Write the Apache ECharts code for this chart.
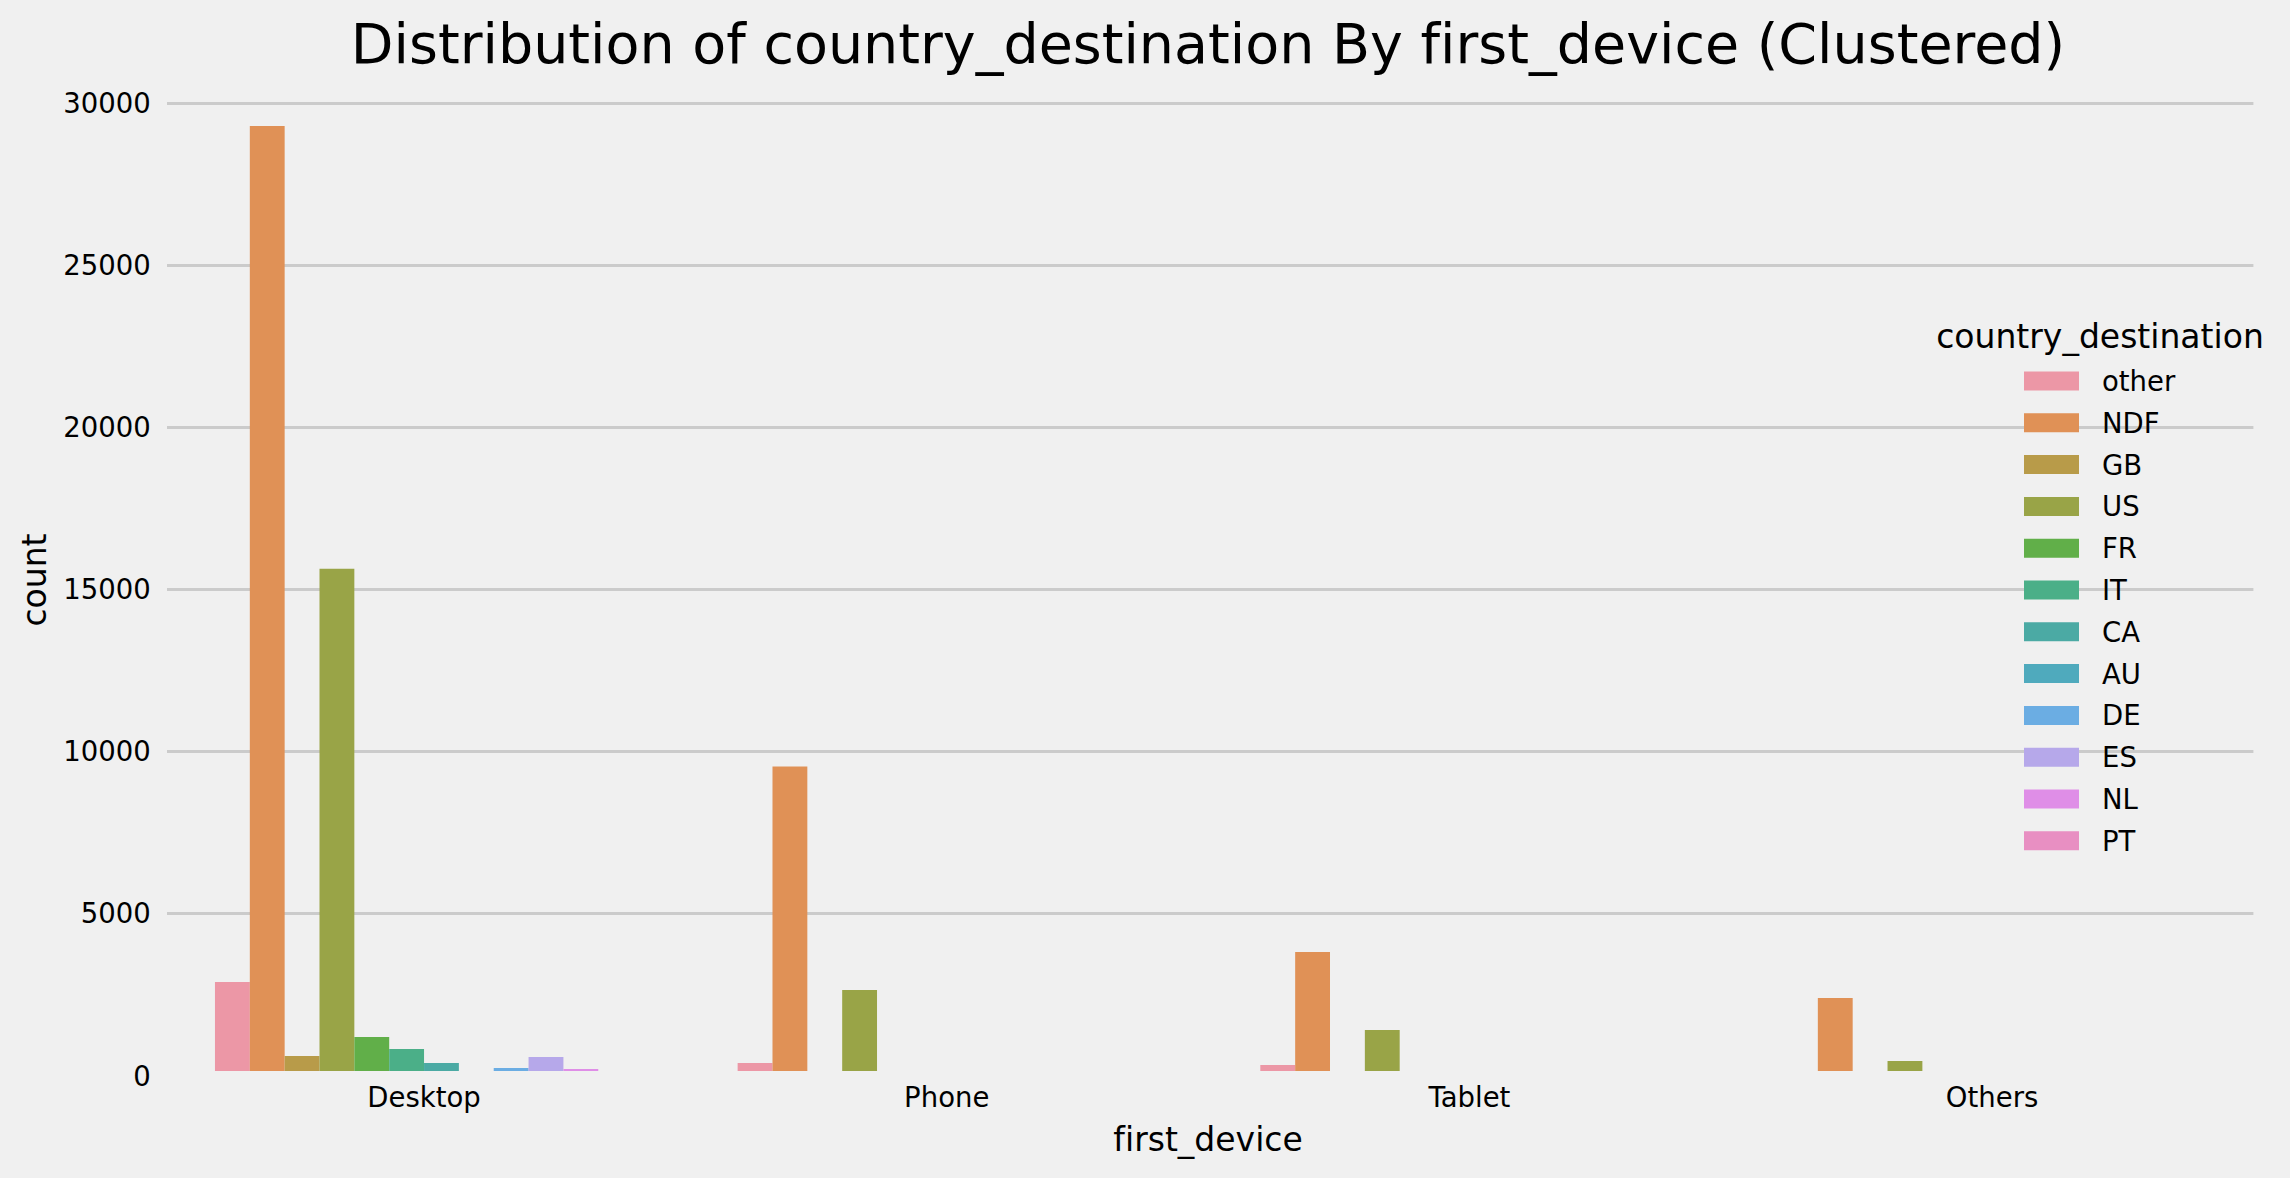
<!DOCTYPE html>
<html>
<head>
<meta charset="utf-8">
<style>html,body{margin:0;padding:0;background:#f0f0f0}#c{width:2290px;height:1178px}
svg text{font-variant-ligatures:none}</style>
<script src="https://cdn.jsdelivr.net/npm/echarts@6/dist/echarts.min.js"></script>
</head>
<body>
<div id="c"></div>
<script>
const categories = ['Desktop','Phone','Tablet','Others'];
const other = [2886,386,324,0];
const NDF = [29306,9537,3812,2392];
const GB = [602,0,0,0];
const US = [15640,2639,1404,448];
const FR = [1188,0,0,0];
const IT = [818,0,0,0];
const CA = [386,0,0,0];
const AU = [0,0,0,0];
const DE = [231,0,0,0];
const ES = [571,0,0,0];
const NL = [200,0,0,0];
const PT = [0,0,0,0];
const names = ['other','NDF','GB','US','FR','IT','CA','AU','DE','ES','NL','PT'];
const values = [other,NDF,GB,US,FR,IT,CA,AU,DE,ES,NL,PT];
const colors = ['#EC97A6','#E09156','#B89B49','#99A447','#61AF49','#4BAF88','#4BAAA4','#4FAABD','#6BADE3','#B6A8EA','#DF8EE7','#E88FC2'];
const font = 'DejaVu Sans';
const chart = echarts.init(document.getElementById('c'), null, {renderer:'svg', width:2290, height:1178});
chart.setOption({
  backgroundColor:'#f0f0f0',
  animation:false,
  title:[
    {text:'Distribution of country_destination By first_device (Clustered)', left:1203, top:10, textAlign:'center',
     textStyle:{fontFamily:font,fontSize:55.5,fontWeight:'normal',color:'#000'}},
    {text:'country_destination', left:2095, top:314.5, textAlign:'center',
     textStyle:{fontFamily:font,fontSize:33,fontWeight:'normal',color:'#000'}}
  ],
  grid:{left:162.7,right:36.6,top:78.5,height:997,containLabel:false,outerBoundsMode:'none'},
  legend:{
    orient:'vertical', left:2019, top:362, itemWidth:55, itemHeight:19, itemGap:13.8,
    icon:'rect', data:names, selectedMode:false,
    textStyle:{fontFamily:font,fontSize:27.5,color:'#000',padding:[0,0,0,18]},
    inactiveColor:'#ccc'
  },
  xAxis:{
    type:'category', data:categories, z:5,
    name:'first_device', nameLocation:'middle', nameGap:47.5,
    nameTextStyle:{fontFamily:font,fontSize:33,color:'#000'},
    axisLine:{show:true,lineStyle:{color:'#f0f0f0',width:9}},
    axisTick:{show:false},
    axisLabel:{fontFamily:font,fontSize:27.5,color:'#000',margin:7.5},
    splitLine:{show:false}
  },
  yAxis:{
    type:'value', min:0, max:30771, interval:5000, z:1,
    name:'count', nameLocation:'middle', nameGap:112, nameRotate:90,
    nameTextStyle:{fontFamily:font,fontSize:33,color:'#000',padding:[0,6,0,0]},
    axisLine:{show:true,lineStyle:{color:'#f0f0f0',width:9}},
    axisTick:{show:false},
    axisLabel:{fontFamily:font,fontSize:27.5,color:'#000',margin:12,showMaxLabel:false,formatter:v=>String(v)},
    splitLine:{show:true,showMaxLine:false,lineStyle:{color:'#cbcbcb',width:3}}
  },
  series:names.map((n,i)=>({
    name:n, type:'bar', data:values[i], barGap:0, barCategoryGap:'20%',
    itemStyle:{color:colors[i]}
  }))
});
</script>
</body>
</html>
